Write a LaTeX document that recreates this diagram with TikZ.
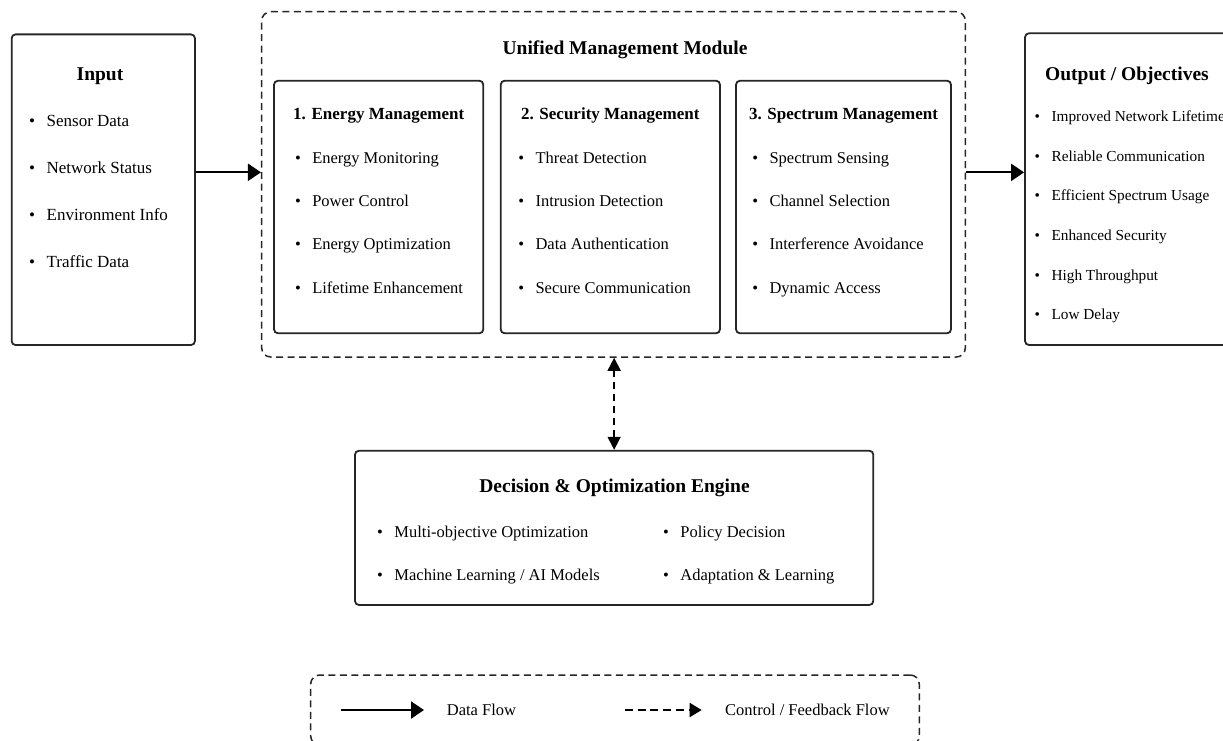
\documentclass[tikz,border=0pt]{standalone}
\usepackage{fontspec}
\setmainfont{Liberation Serif}
\usetikzlibrary{arrows.meta}

\tikzset{
  box/.style={draw=black!85, line width=1.8pt, rounded corners=4pt, inner sep=0pt},
  rahmen/.style={draw=black!85, line width=1.5pt, dash pattern=on 7pt off 4.5pt, rounded corners=9pt, inner sep=0pt},
  titel/.style={font=\fontsize{19.5}{23}\selectfont\bfseries, anchor=base, inner sep=0pt},
  untertitel/.style={font=\fontsize{17}{20}\selectfont\bfseries, anchor=base, inner sep=0pt},
  liste/.style={align=left, anchor=base west, inner sep=0pt},
  fluss/.style={draw=black, line width=2.2pt, -{Triangle[length=13pt, width=17pt]}},
  steuer/.style={draw=black, line width=1.6pt, dash pattern=on 7pt off 5pt, {Triangle[length=13pt, width=13pt]}-{Triangle[length=13pt, width=13pt]}},
  legpfeil/.style={draw=black, line width=2pt, dash pattern=on 8pt off 4.7pt, -{Triangle[length=12pt, width=14pt]}},
}
\newcommand{\pkt}{\textbullet\hspace{11.5pt}}

\begin{document}
\begin{tikzpicture}[x=1pt, y=-1pt]
    \useasboundingbox (0,0) rectangle (1223,740);

    %Eingang (Listen sitzen auf der letzten Grundlinie)
    \node[box, minimum width=183.3pt, minimum height=310.7pt] (input) at (103.3,189.7) {};
    \node[titel] (inputtitel) at (100,80) {Input};
    \node[liste, font=\fontsize{17}{47.3}\selectfont] (inputliste) at (29,267.9)
        {\pkt Sensor Data\\ \pkt Network Status\\ \pkt Environment Info\\ \pkt Traffic Data};

    %Management-Modul
    \node[rahmen, minimum width=703.6pt, minimum height=345.3pt] (umm) at (613.5,184.35) {};
    \node[titel] (ummtitel) at (625,54.3) {Unified Management Module};

    \node[box, minimum width=209.3pt, minimum height=252.6pt] (energy) at (378.65,207) {};
    \node[untertitel] (energytitel) at (378.7,119) {1. Energy Management};
    \node[liste, font=\fontsize{16.5}{43.3}\selectfont] (energyliste) at (294.8,293.2)
        {\pkt Energy Monitoring\\ \pkt Power Control\\ \pkt Energy Optimization\\ \pkt Lifetime Enhancement};

    \node[box, minimum width=219.3pt, minimum height=252.6pt] (security) at (610.35,207) {};
    \node[untertitel] (securitytitel) at (610.3,119) {2. Security Management};
    \node[liste, font=\fontsize{16.5}{43.3}\selectfont] (securityliste) at (518.1,293.2)
        {\pkt Threat Detection\\ \pkt Intrusion Detection\\ \pkt Data Authentication\\ \pkt Secure Communication};

    \node[box, minimum width=215pt, minimum height=252.6pt] (spectrum) at (843.5,207) {};
    \node[untertitel] (spectrumtitel) at (843.5,119) {3. Spectrum Management};
    \node[liste, font=\fontsize{16.5}{43.3}\selectfont] (spectrumliste) at (752.1,293.2)
        {\pkt Spectrum Sensing\\ \pkt Channel Selection\\ \pkt Interference Avoidance\\ \pkt Dynamic Access};

    %Ausgang
    \node[box, minimum width=210pt, minimum height=311.7pt] (output) at (1130,189.15) {};
    \node[titel] (outputtitel) at (1127,80) {Output / Objectives};
    \node[liste, font=\fontsize{15.3}{39.6}\selectfont] (outputliste) at (1034.5,319.7)
        {\pkt Improved Network Lifetime\\ \pkt Reliable Communication\\ \pkt Efficient Spectrum Usage\\ \pkt Enhanced Security\\ \pkt High Throughput\\ \pkt Low Delay};

    %Datenfluss
    \draw[fluss] ([yshift=17.4pt]input.east) -- ([yshift=17.4pt]input.east -| umm.west);
    \draw[fluss] ([yshift=12pt]umm.east) -- ([yshift=12pt]umm.east -| output.west);

    %Entscheidung
    \node[box, minimum width=518.3pt, minimum height=154.3pt] (engine) at (614.15,527.85) {};
    \node[titel] (enginetitel) at (614.5,492) {Decision \& Optimization Engine};
    \node[liste, font=\fontsize{16.5}{43}\selectfont] (engineliste1) at (377,580)
        {\pkt Multi-objective Optimization\\ \pkt Machine Learning / AI Models};
    \node[liste, font=\fontsize{16.5}{43}\selectfont] (engineliste2) at (663,580)
        {\pkt Policy Decision\\ \pkt Adaptation \& Learning};

    %Rueckkopplung
    \draw[steuer] (umm.south -| engine.north) -- (engine.north);

    %Legende
    \node[rahmen, minimum width=608.6pt, minimum height=70pt] (legend) at (615,710) {};
    \coordinate (datena) at (340.7,710);
    \coordinate (datenb) at (424,710);
    \draw[fluss] (datena) -- (datenb);
    \node[liste, font=\fontsize{16.5}{20}\selectfont] (datentext) at (446.7,715) {Data Flow};
    \coordinate (steuera) at (625,710);
    \coordinate (steuerb) at (701.7,710);
    \draw[legpfeil] (steuera) -- (steuerb);
    \node[liste, font=\fontsize{16.5}{20}\selectfont] (steuertext) at (725,715) {Control / Feedback Flow};

\end{tikzpicture}
\end{document}
